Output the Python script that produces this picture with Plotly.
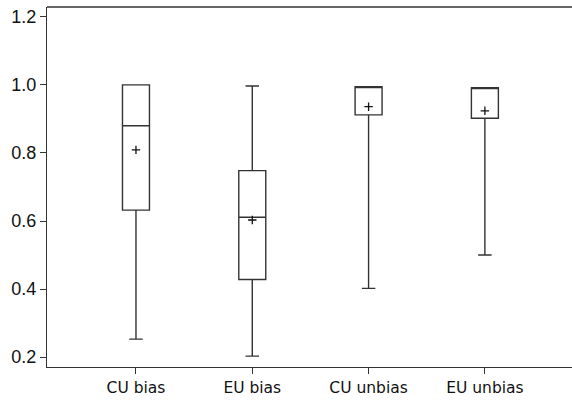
import plotly.graph_objects as go

categories = ["CU bias", "EU bias", "CU unbias", "EU unbias"]
lower_whisker = [0.253, 0.203, 0.402, 0.500]
q1 = [0.632, 0.428, 0.912, 0.902]
median = [0.880, 0.611, 0.995, 0.992]
q3 = [1.000, 0.748, 0.995, 0.992]
upper_whisker = [1.000, 0.997, 0.995, 0.992]
means = [0.809, 0.603, 0.936, 0.924]

y_ticks = [0.2, 0.4, 0.6, 0.8, 1.0, 1.2]

line_col = "#333333"

fig = go.Figure()
fig.add_trace(go.Box(
    x=categories,
    q1=q1, median=median, q3=q3,
    lowerfence=lower_whisker, upperfence=upper_whisker,
    width=0.232,
    whiskerwidth=0.5,
    fillcolor="rgba(0,0,0,0)",
    line=dict(color=line_col, width=1.4),
    boxpoints=False,
    hoverinfo="skip",
    showlegend=False,
))
fig.add_trace(go.Scatter(
    x=categories, y=means, mode="markers",
    marker=dict(symbol="cross-thin", size=6, line=dict(color="#111111", width=1.3)),
    showlegend=False, hoverinfo="skip",
))

fig.add_shape(type="line", xref="paper", yref="paper", x0=0, x1=1, y0=1, y1=1,
              line=dict(color=line_col, width=1.4))

fig.update_layout(
    template="none",
    width=572, height=401,
    margin=dict(l=47, r=0, t=7, b=34),
    paper_bgcolor="white", plot_bgcolor="white",
    showlegend=False,
)
fig.update_xaxes(
    type="category",
    range=[-0.765, 3.749],
    showline=True, mirror=False, linecolor=line_col, linewidth=1.4,
    ticks="outside", ticklen=6, tickcolor=line_col, tickwidth=1.4,
    showgrid=False, zeroline=False,
    tickfont=dict(family="DejaVu Sans", size=15.5, color="#111111"),
)
fig.update_yaxes(
    range=[0.171, 1.229],
    tickvals=y_ticks, ticktext=[f"{v:.1f}" for v in y_ticks],
    showline=True, mirror=False, linecolor=line_col, linewidth=1.4,
    ticks="outside", ticklen=6, tickcolor=line_col, tickwidth=1.4,
    showgrid=False, zeroline=False,
    tickfont=dict(family="Liberation Sans", size=18, color="#111111"),
)

fig.write_html("out.html")
